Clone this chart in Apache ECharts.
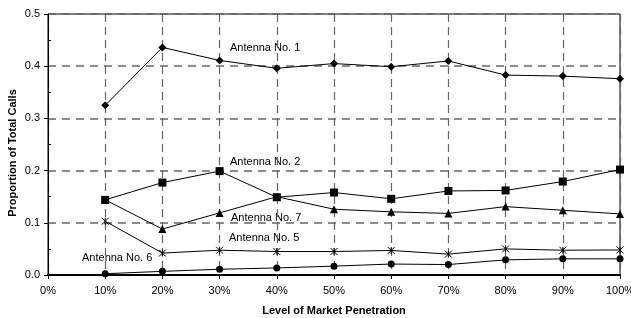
<!DOCTYPE html>
<html>
<head>
<meta charset="utf-8">
<script src="https://cdn.jsdelivr.net/npm/echarts@6/dist/echarts.min.js"></script>
<style>
  html, body { margin: 0; padding: 0; background: #fff; }
  #chart { width: 631px; height: 318px; }
</style>
</head>
<body>
<div id="chart"></div>
<script>
// market penetration (%)
var penetration = [10, 20, 30, 40, 50, 60, 70, 80, 90, 100]

var antenna1 = [0.325, 0.436, 0.411, 0.396, 0.405, 0.399, 0.410, 0.383, 0.381, 0.376]
var antenna2 = [0.144, 0.177, 0.199, 0.149, 0.158, 0.146, 0.161, 0.162, 0.179, 0.202]
var antenna7 = [0.144, 0.088, 0.119, 0.150, 0.126, 0.121, 0.118, 0.131, 0.124, 0.117]
var antenna5 = [0.103, 0.042, 0.0475, 0.045, 0.045, 0.047, 0.040, 0.050, 0.0475, 0.048]
var antenna6 = [0.0025, 0.007, 0.011, 0.0135, 0.017, 0.021, 0.020, 0.029, 0.031, 0.031]

var yTicks = ['0.0', '0.1', '0.2', '0.3', '0.4', '0.5']

var font = 'Liberation Sans, Arial, sans-serif'
var asterisk = 'path://M0,0L10,10M10,0L0,10M5,0L5,10'

function pairs(vals) {
  return penetration.map(function (p, i) { return [p, vals[i]] })
}

function line(name, vals, symbol, size) {
  return {
    name: name,
    type: 'line',
    data: pairs(vals),
    symbol: symbol,
    symbolSize: size,
    lineStyle: { color: '#000', width: 1 },
    itemStyle: { color: '#000', borderColor: '#000', borderWidth: symbol === asterisk ? 1 : 0 },
    animation: false,
    z: 5
  }
}

function note(text, x, y) {
  return {
    type: 'text',
    left: x,
    top: y - 7,
    style: { text: text, font: '11px ' + font, fill: '#000' }
  }
}

var chart = echarts.init(document.getElementById('chart'))
chart.setOption({
  backgroundColor: '#fff',
  grid: {
    left: 48, right: 11, top: 14, bottom: 43,
    outerBoundsMode: 'none',
    containLabel: false,
    show: true, borderColor: '#000', borderWidth: 1
  },
  xAxis: {
    type: 'value',
    min: 0, max: 100, interval: 10,
    name: 'Level of Market Penetration',
    nameLocation: 'middle',
    nameGap: 30,
    nameTextStyle: { fontFamily: font, fontSize: 11, fontWeight: 'bold', color: '#000' },
    axisLine: { lineStyle: { color: '#000', width: 2 } },
    axisTick: { show: true, length: 4, lineStyle: { color: '#000' } },
    axisLabel: { formatter: '{value}%', margin: 10, fontFamily: font, fontSize: 11, color: '#000' },
    splitLine: { show: true, lineStyle: { color: '#666', width: 1.2, type: [8, 5] } }
  },
  yAxis: [{
    type: 'value',
    min: 0, max: 0.5, interval: 0.1,
    axisLine: { show: true, lineStyle: { color: '#000', width: 1 } },
    axisTick: { show: true, length: 4, lineStyle: { color: '#000' } },
    axisLabel: {
      margin: 8, fontFamily: font, fontSize: 11, color: '#000',
      formatter: function (v) { return yTicks[Math.round(v * 10)] }
    },
    splitLine: { show: true, lineStyle: { color: '#666', width: 1.5, type: [8, 6] } }
  }, {
    type: 'value',
    position: 'left',
    min: 0, max: 0.5, interval: 0.1,
    axisLine: { show: false },
    axisLabel: { show: false },
    axisTick: { show: false, inside: true },
    minorTick: { show: true, splitNumber: 2, length: 3, lineStyle: { color: '#000' } },
    splitLine: { show: false }
  }],
  graphic: [
    {
      type: 'text',
      x: 13, y: 153,
      rotation: Math.PI / 2,
      style: {
        text: 'Proportion of Total Calls',
        font: 'bold 11px ' + font,
        fill: '#000',
        align: 'center',
        verticalAlign: 'middle'
      }
    },
    note('Antenna No. 1', 230, 49),
    note('Antenna No. 2', 230, 163),
    note('Antenna No. 7', 231, 219),
    note('Antenna No. 5', 229, 239),
    note('Antenna No. 6', 82, 259)
  ],
  series: [
    line('Antenna No. 1', antenna1, 'diamond', 8),
    line('Antenna No. 2', antenna2, 'rect', 8),
    line('Antenna No. 7', antenna7, 'triangle', 8),
    line('Antenna No. 5', antenna5, asterisk, 7),
    line('Antenna No. 6', antenna6, 'circle', 7)
  ]
})
</script>
</body>
</html>
